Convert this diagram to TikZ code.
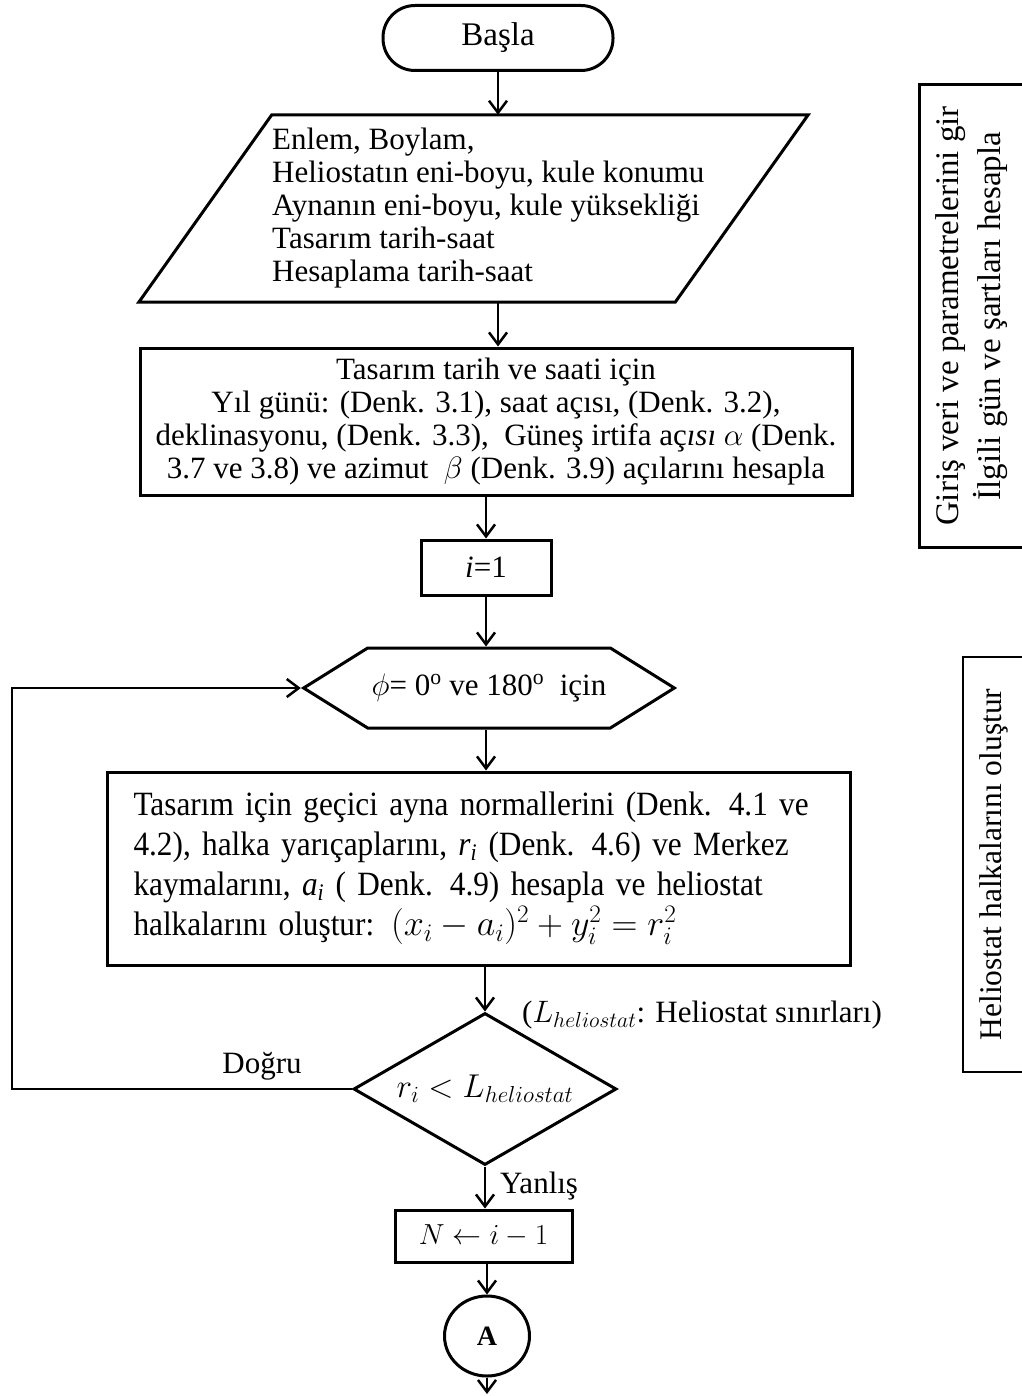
\documentclass[tikz,border=0pt]{standalone}
\usepackage{fix-cm}
\usepackage{fontspec}
\setmainfont{Liberation Serif}
\newfontfamily\condfont[FakeStretch=0.92]{Liberation Serif}
\usetikzlibrary{shapes.geometric,shapes.symbols,arrows.meta}
\tikzset{
  base/.style={draw, line width=3pt, font=\fontsize{31}{33}\selectfont, inner sep=4pt},
  shapeline/.style={line width=3pt, line join=miter},
  sidebox/.style={draw, line width=2.5pt, rotate=90, align=center},
  arr/.style={line width=2.5pt, -{Straight Barb[length=12pt,width=18pt,line width=2.5pt]}},
  lbl/.style={font=\fontsize{31}{33}\selectfont, inner sep=0pt},
}
\begin{document}
\begin{tikzpicture}[x=1pt,y=-1pt]
\path[fill=white, use as bounding box] (0,0) rectangle (1021,1396);

\node[base, rounded corners=32pt, minimum width=230pt, minimum height=65pt,
      font=\fontsize{33}{33}\selectfont] (start) at (498,38) {Başla};

% input parallelogram: invisible frame node + drawn outline
\node[minimum width=669pt, minimum height=187pt, inner sep=0pt] (inp) at (473.5,208.5) {};
\draw[shapeline] (inp.south west) -- ([xshift=-133pt]inp.south east)
  -- (inp.north east) -- ([xshift=133pt]inp.north west) -- cycle;
\node[lbl, anchor=west, align=left] (inptext) at (272,208)
  {Enlem, Boylam,\\Heliostatın eni-boyu, kule konumu\\Aynanın eni-boyu, kule yüksekliği\\Tasarım tarih-saat\\Hesaplama tarih-saat};

\node[base, minimum width=712pt, minimum height=147pt, align=center] (calc) at (496,421.5)
  {Tasarım tarih ve saati için\\Yıl günü: (Denk. 3.1), saat açısı, (Denk. 3.2),\\deklinasyonu, (Denk. 3.3),~ Güneş irtifa aç\textit{ısı} $\alpha$ (Denk.\\3.7 ve 3.8) ve azimut~ $\beta$ (Denk. 3.9) açılarını hesapla};

\node[base, minimum width=130pt, minimum height=55pt] (init) at (486,567.5) {\textit{i}=1};

\node[base, signal, signal to=east and west, signal pointer angle=64,
      minimum width=353pt, minimum height=80pt] (hex) at (489,688)
  {$\phi$= 0\textsuperscript{o} ve 180\textsuperscript{o}~ için};

\node[base, minimum width=743pt, minimum height=193pt, text width=690pt, align=left, inner sep=0pt,
      font=\condfont\fontsize{34}{40}\selectfont] (ring) at (478.5,868.5)
  {Tasarım için geçici ayna normallerini (Denk. 4.1 ve\\4.2), halka yarıçaplarını, \textit{r\textsubscript{i}} (Denk. 4.6) ve Merkez\\kaymalarını, \textit{a\textsubscript{i}} ( Denk. 4.9) hesapla ve heliostat\\halkalarını oluştur: {\fontsize{36}{40}\selectfont$(x_i-a_i)^2+y_i^2=r_i^2$}};

\node[base, diamond, aspect=1.73, inner sep=0pt, minimum width=263pt, minimum height=152pt,
      font=\fontsize{33}{35}\selectfont] (dec) at (485,1089)
  {$r_i<L_{heliostat}$};

\node[lbl, anchor=west, font=\fontsize{31}{33}\selectfont] (lim) at (522,1015) {($L_{heliostat}$: Heliostat sınırları)};
\node[lbl] (yes) at (262,1066) {Doğru};
\node[lbl, anchor=west] (no) at (500,1186) {Yanlış};

\node[base, minimum width=177pt, minimum height=52pt, font=\fontsize{29}{33}\selectfont] (count) at (483.5,1236) {$N\leftarrow i-1$};

\node[base, ellipse, minimum width=85pt, minimum height=80pt, font=\fontsize{28}{33}\selectfont\bfseries] (conn) at (487,1336) {A};

\coordinate (loopx) at (12,0);
\coordinate (exit) at (487,1394);

\node[sidebox, minimum width=463pt, minimum height=104pt, font=\fontsize{33}{42}\selectfont] (side1) at (971.5,316)
  {Giriş veri ve parametrelerini gir\\İlgili gün ve şartları hesapla};
\node[sidebox, minimum width=415pt, minimum height=61pt, font=\fontsize{31.5}{40}\selectfont] (side2) at (993.5,864.5)
  {Heliostat halkalarını oluştur};

\draw[arr] (start.south) -- (start.south |- inp.north);
\draw[arr] (start.south |- inp.south) -- (start.south |- calc.north);
\draw[arr] (init.north |- calc.south) -- (init.north);
\draw[arr] (init.south) -- (init.south |- hex.north);
\draw[arr] (init.south |- hex.south) -- (init.south |- ring.north);
\draw[arr] (dec.north |- ring.south) -- (dec.north);
\draw[arr] (dec.west) -- (dec.west -| loopx) |- (hex.west);
\draw[arr] (dec.south) -- (dec.south |- count.north);
\draw[arr] (conn.north |- count.south) -- (conn.north);
\draw[arr] (conn.south) -- (exit);
\end{tikzpicture}
\end{document}
